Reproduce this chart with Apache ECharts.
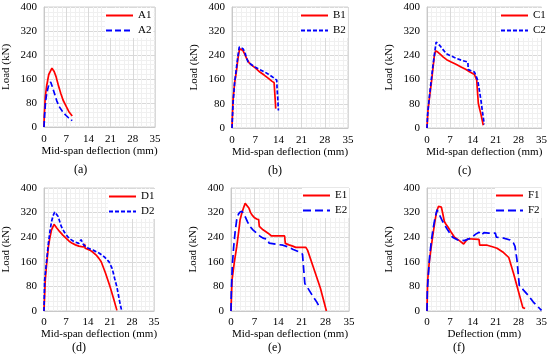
<!DOCTYPE html>
<html><head><meta charset="utf-8">
<script src="https://cdn.jsdelivr.net/npm/echarts@6/dist/echarts.min.js"></script>
<style>html,body{margin:0;padding:0;background:#fff}#c{width:550px;height:360px}</style>
</head><body><div id="c"></div>
<script>
const panelNames = ['A','B','C','D','E','F'];
const captions = ['(a)','(b)','(c)','(d)','(e)','(f)'];
const xTitles = ['Mid-span deflection (mm)','Mid-span deflection (mm)','Mid-span deflection (mm)','Mid-span deflection (mm)','Mid-span deflection (mm)','Deflection (mm)'];
const yTitle = 'Load (kN)';

const A1 = [[0,0],[0.1,40],[0.4,100],[0.8,135],[1.5,175],[2.5,196],[3.2,185],[3.8,168],[4.5,140],[5.3,112],[6,90],[6.8,73],[7.8,52],[8.9,37]];
const A2 = [[0,0],[0.2,40],[0.5,85],[0.9,115],[1.5,140],[2.1,150],[2.7,132],[3.3,112],[4,88],[4.8,68],[5.8,52],[6.8,40],[7.8,30],[8.9,21]];
const B1 = [[0,0],[0.3,90],[0.8,150],[1.3,185],[1.8,230],[2.3,262],[2.7,263],[3.3,256],[3.8,245],[4.4,230],[5.2,215],[6,207],[7.2,197],[8.4,185],[9.7,175],[11,164],[12,155],[12.7,150],[13,100],[13.2,64]];
const B2 = [[0,0],[0.3,80],[0.8,150],[1.3,195],[1.8,240],[2.2,268],[2.8,273],[3.3,262],[3.9,250],[4.4,230],[4.9,218],[5.8,210],[6.9,202],[8.4,193],[9.9,185],[11,178],[11.9,171],[12.7,165],[13.5,158],[13.6,130],[13.8,100],[14,58]];
const C1 = [[0,0],[0.3,58],[0.8,105],[1.3,147],[1.8,195],[2.2,235],[2.6,255],[3.3,251],[4.1,243],[4.9,235],[6,226],[7.4,218],[9,210],[10.4,202],[11.8,194],[13,186],[14.5,177],[15.2,158],[15.5,110],[15.7,80],[16.5,45],[17.2,9]];
const C2 = [[0,0],[0.2,47],[0.8,110],[1.3,158],[1.8,205],[2.3,246],[2.8,284],[3.4,278],[3.9,273],[4.9,259],[5.9,246],[7,240],[8.4,233],[10.5,224],[12.5,218],[12.6,193],[13.5,189],[14.5,185],[15.5,158],[16,125],[16.5,91],[17,50],[17.5,12]];
const D1 = [[0,0],[0.4,100],[0.9,160],[1.4,209],[1.9,240],[2.4,264],[3.2,282],[4,271],[5,258],[6,247],[7,237],[8,227],[9,220],[10,215],[11.1,211],[12.6,208],[12.9,218],[13.1,204],[14.6,198],[15.6,191],[16.6,182],[17.4,172],[18.2,160],[19.5,125],[21,80],[22.2,38],[23.2,2]];
const D2 = [[0,0],[0.2,100],[0.8,160],[1.4,220],[1.9,260],[2.4,291],[2.9,310],[3.4,322],[4.5,307],[5.5,275],[6.5,256],[7.5,242],[8.5,233],[9.5,226],[11.1,220],[11.8,232],[12.6,215],[14.1,204],[15.6,198],[17.6,188],[19.2,176],[20.7,160],[21.7,138],[22.5,105],[23.2,78],[24.2,24],[24.7,2]];
const E1 = [[0,0],[0.3,100],[1,160],[1.7,209],[2.3,260],[2.7,297],[3.2,318],[3.7,335],[4.2,350],[4.7,356],[5.3,335],[5.8,320],[6.4,310],[7,303],[7.6,299],[8.2,297],[8.4,275],[9.5,264],[11,253],[12,244],[14,244],[15.9,244],[16.1,220],[17.2,215],[18.3,211],[19.2,207],[22.2,207],[22.7,198],[24.5,140],[26.5,75],[28.3,0]];
const E2 = [[0,0],[0.1,67],[0.4,150],[0.8,209],[1.2,255],[1.7,297],[2.2,315],[2.7,322],[3.3,324],[4.2,307],[4.9,290],[5.6,275],[6.5,264],[7.6,253],[8.5,244],[9.5,237],[10.7,234],[11,237],[11.3,221],[13.4,217],[15.4,214],[17,208],[18.3,201],[20,193],[21.2,185],[21.6,130],[21.9,89],[22.6,78],[24.1,51],[25.5,28],[26.5,8]];
const F1 = [[0,0],[0.2,100],[0.7,160],[1.3,209],[1.9,255],[2.5,297],[3,325],[3.5,340],[4,343],[4.4,338],[4.8,318],[5.3,291],[5.8,282],[6.3,275],[7.3,258],[8.4,240],[9.9,229],[11.2,218],[11.9,228],[12.6,235],[14.4,234],[15.9,233],[16.1,214],[18.4,214],[20,209],[21.4,204],[23.4,190],[25,174],[26.5,120],[28,62],[29.3,11],[30,8]];
const F2 = [[0,0],[0.1,67],[0.8,177],[1.3,225],[1.8,264],[2.5,305],[3.1,329],[3.8,313],[4.8,291],[5.5,278],[6.3,264],[7.8,240],[9.4,231],[11.4,229],[13.4,237],[14.9,250],[15.9,256],[16.4,262],[16.6,247],[17.4,255],[18.9,253],[20.9,253],[21.2,240],[23.4,237],[25.4,231],[26.4,222],[26.9,210],[27.5,166],[28.2,84],[29.5,68],[31,50],[32.5,29],[35,2]];

const series1 = [A1,B1,C1,D1,E1,F1];
const series2 = [A2,B2,C2,D2,E2,F2];
const xMin = 0, xMax = 35, xStep = 7;
const yMin = 0, yMax = 400, yStep = 80;

// layout (pixels)
const gridBoxes = [
  {left:39, top:7, width:116, height:120},
  {left:232, top:7, width:116, height:121},
  {left:427, top:7, width:117, height:121},
  {left:39, top:188, width:115, height:123},
  {left:231, top:188, width:118, height:123},
  {left:427, top:188, width:116, height:123}
];
const legendPos = [
  {left:105, top:8}, {left:300, top:8}, {left:500, top:8},
  {left:108, top:189}, {left:302, top:188}, {left:495, top:188}
];
const captionPos = [[83,171],[277,172],[467,172],[81,349],[277,349],[462,349]];
const dash2 = [[6,3],[4,2],[4,2],[4,2],[8,4],[8,4]];

const FONT = '"Liberation Serif","Times New Roman",serif';
const grid=[], xAxis=[], yAxis=[], series=[], legend=[], graphic=[];
for (let i=0;i<6;i++){
  const g = gridBoxes[i];
  grid.push({left:g.left, top:g.top, width:g.width, height:g.height, show:true, borderColor:'#d0d0d0', borderWidth:1, backgroundColor:'#fff'});
  const row2 = i>=3;
  xAxis.push({type:'value', gridIndex:i, min:xMin, max:xMax, interval:xStep,
    name:xTitles[i], nameLocation:'middle', nameGap: row2?17:19,
    nameTextStyle:{fontFamily:FONT, fontSize:11, color:'#000'},
    axisLine:{show:true, lineStyle:{color:'#c8c8c8'}}, axisTick:{show:false},
    axisLabel:{fontFamily:FONT, fontSize:11, color:'#000', margin: row2?6:7},
    splitLine:{show:true, lineStyle:{color:'#d9d9d9', width:1}},
    minorTick:{show:false, splitNumber:5},
    minorSplitLine:{show:true, lineStyle:{color:'#f0f0f0', width:1}}});
  yAxis.push({type:'value', gridIndex:i, min:yMin, max:yMax, interval:yStep,
    name:yTitle, nameLocation:'middle', nameGap:32, nameRotate:90,
    nameTextStyle:{fontFamily:FONT, fontSize:11, color:'#000'},
    axisLine:{show:true, lineStyle:{color:'#c8c8c8'}}, axisTick:{show:false},
    axisLabel:{fontFamily:FONT, fontSize:11, color:'#000', margin:7},
    splitLine:{show:true, lineStyle:{color:'#d9d9d9', width:1}},
    minorTick:{show:false, splitNumber:5},
    minorSplitLine:{show:true, lineStyle:{color:'#f0f0f0', width:1}}});
  const n1 = panelNames[i]+'1', n2 = panelNames[i]+'2';
  series.push({type:'line', name:n1, xAxisIndex:i, yAxisIndex:i, data:series1[i], symbol:'none',
    lineStyle:{color:'#ff0000', width:1.7}, itemStyle:{color:'#ff0000'}, animation:false});
  series.push({type:'line', name:n2, xAxisIndex:i, yAxisIndex:i, data:series2[i], symbol:'none',
    lineStyle:{color:'#0000ff', width:1.7, type:dash2[i]}, itemStyle:{color:'#0000ff'}, animation:false});
  legend.push({data:[n1,n2], orient:'vertical', left:legendPos[i].left, top:legendPos[i].top,
    itemWidth:27, itemHeight:12, itemGap:4, padding:[2,2,2,0], backgroundColor:'#fff',
    itemStyle:{opacity:0},
    textStyle:{fontFamily:FONT, fontSize:11, color:'#000'}, selectedMode:false});
  graphic.push({type:'text', left:captionPos[i][0]-9, top:captionPos[i][1]-7,
    style:{text:captions[i], font:'12px '+FONT, fill:'#000'}});
}
const chart = echarts.init(document.getElementById('c'), null, {renderer:'canvas'});
chart.setOption({animation:false, grid, xAxis, yAxis, series, legend, graphic});
</script></body></html>
